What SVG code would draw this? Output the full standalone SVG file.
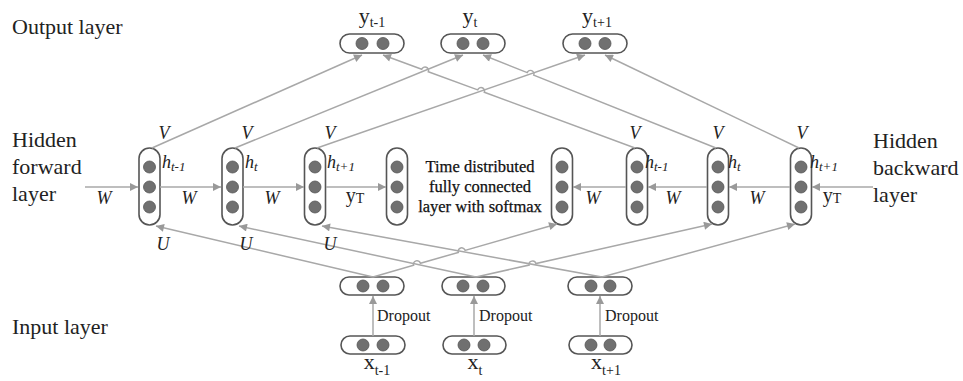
<svg xmlns="http://www.w3.org/2000/svg" width="963" height="381" viewBox="0 0 963 381">
<style>
.pill{fill:#fff;stroke:#555;stroke-width:1.6}
.dot{fill:#707070;stroke:#555;stroke-width:0.8}
.ln{fill:none;stroke:#a8a8a8;stroke-width:1.5}
.arr{marker-end:url(#ah)}
.big{font-family:"Liberation Serif",serif;font-size:22px;fill:#222}
.lab{font-family:"Liberation Serif",serif;font-size:22px;fill:#222}
.sub{font-size:14px}
.it{font-family:"Liberation Serif",serif;font-style:italic;font-size:18px;fill:#222}
.its{font-size:13px}
.sm{font-family:"Liberation Serif",serif;font-size:16px;fill:#222}
.td{font-family:"Liberation Serif",serif;font-size:16.5px;fill:#111;stroke:#111;stroke-width:0.25}
</style>
<defs>
<marker id="ah" viewBox="0 0 10 10" refX="10" refY="5" markerWidth="10" markerHeight="8" markerUnits="userSpaceOnUse" orient="auto">
<path d="M0 0 L10 5 L0 10 z" fill="#999"/>
</marker>
</defs>

<g id="layer-labels">
<text class="big" x="12" y="34">Output layer</text>
<text class="big" x="12" y="147">Hidden</text>
<text class="big" x="12" y="174">forward</text>
<text class="big" x="12" y="201">layer</text>
<text class="big" x="873" y="148">Hidden</text>
<text class="big" x="873" y="175">backward</text>
<text class="big" x="873" y="202">layer</text>
<text class="big" x="12" y="334">Input layer</text>
</g>

<g id="out-ytm1"><rect class="pill" x="340" y="34" width="64" height="19" rx="9.5"/><circle class="dot" cx="362" cy="43.5" r="6"/><circle class="dot" cx="383" cy="43.5" r="6"/><text class="lab" x="372" y="23" text-anchor="middle">y<tspan class="sub" dy="4">t-1</tspan></text></g>
<g id="out-yt"><rect class="pill" x="441" y="34" width="64" height="19" rx="9.5"/><circle class="dot" cx="463" cy="43.5" r="6"/><circle class="dot" cx="483" cy="43.5" r="6"/><text class="lab" x="470" y="23" text-anchor="middle">y<tspan class="sub" dy="4">t</tspan></text></g>
<g id="out-ytp1"><rect class="pill" x="563" y="34" width="64" height="19" rx="9.5"/><circle class="dot" cx="585" cy="43.5" r="6"/><circle class="dot" cx="605" cy="43.5" r="6"/><text class="lab" x="597" y="23" text-anchor="middle">y<tspan class="sub" dy="4">t+1</tspan></text></g>

<g id="fwd-htm1"><rect class="pill" x="139" y="148" width="21" height="77" rx="10.5"/><circle class="dot" cx="149.5" cy="167" r="6"/><circle class="dot" cx="149.5" cy="187" r="6"/><circle class="dot" cx="149.5" cy="207" r="6"/><text class="it" x="162" y="168">h<tspan class="its" dy="3">t-1</tspan></text></g>
<g id="fwd-ht"><rect class="pill" x="222" y="148" width="21" height="77" rx="10.5"/><circle class="dot" cx="232.5" cy="167" r="6"/><circle class="dot" cx="232.5" cy="187" r="6"/><circle class="dot" cx="232.5" cy="207" r="6"/><text class="it" x="245" y="168">h<tspan class="its" dy="3">t</tspan></text></g>
<g id="fwd-htp1"><rect class="pill" x="304.5" y="148" width="21" height="77" rx="10.5"/><circle class="dot" cx="315" cy="167" r="6"/><circle class="dot" cx="315" cy="187" r="6"/><circle class="dot" cx="315" cy="207" r="6"/><text class="it" x="327" y="168">h<tspan class="its" dy="3">t+1</tspan></text></g>
<g id="td-left"><rect class="pill" x="386.5" y="148" width="21" height="77" rx="10.5"/><circle class="dot" cx="397" cy="167" r="6"/><circle class="dot" cx="397" cy="187" r="6"/><circle class="dot" cx="397" cy="207" r="6"/></g>
<g id="td-text">
<text class="td" x="480" y="172" text-anchor="middle">Time distributed</text>
<text class="td" x="480" y="192" text-anchor="middle">fully connected</text>
<text class="td" x="480" y="212" text-anchor="middle">layer with softmax</text>
</g>
<g id="td-right"><rect class="pill" x="551.5" y="148" width="21" height="77" rx="10.5"/><circle class="dot" cx="562" cy="167" r="6"/><circle class="dot" cx="562" cy="187" r="6"/><circle class="dot" cx="562" cy="207" r="6"/></g>
<g id="bwd-htm1"><rect class="pill" x="626.5" y="148" width="21" height="77" rx="10.5"/><circle class="dot" cx="637" cy="167" r="6"/><circle class="dot" cx="637" cy="187" r="6"/><circle class="dot" cx="637" cy="207" r="6"/><text class="it" x="645" y="168">h<tspan class="its" dy="3">t-1</tspan></text></g>
<g id="bwd-ht"><rect class="pill" x="707.5" y="148" width="21" height="77" rx="10.5"/><circle class="dot" cx="718" cy="167" r="6"/><circle class="dot" cx="718" cy="187" r="6"/><circle class="dot" cx="718" cy="207" r="6"/><text class="it" x="728" y="168">h<tspan class="its" dy="3">t</tspan></text></g>
<g id="bwd-htp1"><rect class="pill" x="790.5" y="148" width="21" height="77" rx="10.5"/><circle class="dot" cx="801" cy="167" r="6"/><circle class="dot" cx="801" cy="187" r="6"/><circle class="dot" cx="801" cy="207" r="6"/><text class="it" x="810" y="168">h<tspan class="its" dy="3">t+1</tspan></text></g>

<g id="in-drop-tm1"><rect class="pill" x="340" y="277" width="64" height="18" rx="9"/><circle class="dot" cx="363" cy="286" r="6"/><circle class="dot" cx="383" cy="286" r="6"/></g>
<g id="in-drop-t"><rect class="pill" x="442" y="277" width="63" height="18" rx="9"/><circle class="dot" cx="463" cy="286" r="6"/><circle class="dot" cx="483" cy="286" r="6"/></g>
<g id="in-drop-tp1"><rect class="pill" x="568" y="277" width="64" height="18" rx="9"/><circle class="dot" cx="591" cy="286" r="6"/><circle class="dot" cx="610" cy="286" r="6"/></g>
<g id="in-xtm1"><rect class="pill" x="341" y="336" width="64" height="18" rx="9"/><circle class="dot" cx="363" cy="345" r="6"/><circle class="dot" cx="383" cy="345" r="6"/><text class="lab" x="377" y="369" text-anchor="middle">x<tspan class="sub" dy="6">t-1</tspan></text></g>
<g id="in-xt"><rect class="pill" x="443" y="336" width="63" height="18" rx="9"/><circle class="dot" cx="464" cy="345" r="6"/><circle class="dot" cx="484" cy="345" r="6"/><text class="lab" x="475" y="369" text-anchor="middle">x<tspan class="sub" dy="6">t</tspan></text></g>
<g id="in-xtp1"><rect class="pill" x="569" y="336" width="63" height="18" rx="9"/><circle class="dot" cx="591" cy="345" r="6"/><circle class="dot" cx="610" cy="345" r="6"/><text class="lab" x="606" y="369" text-anchor="middle">x<tspan class="sub" dy="6">t+1</tspan></text></g>

<g id="connectors">
<path class="ln arr" d="M85 187 L138 187"/>
<path class="ln arr" d="M160 187 L221 187"/>
<path class="ln arr" d="M243 187 L304 187"/>
<path class="ln arr" d="M326 187 L386 187"/>
<path class="ln arr" d="M873 187 L812 187"/>
<path class="ln arr" d="M790 187 L729 187"/>
<path class="ln arr" d="M707 187 L648 187"/>
<path class="ln arr" d="M626 187 L573 187"/>
<path class="ln arr" d="M152 148 L362 55"/>
<path class="ln arr" d="M235 148 L463 55"/>
<path class="ln arr" d="M317 148 L585 55"/>
<path class="ln arr" d="M635 148 L484.3 92.3 A3.5 3.5 0 0 0 477.7 89.9 L428.3 71.7 A3.5 3.5 0 0 0 421.7 69.3 L383 55"/>
<path class="ln arr" d="M716 148 L533.7 75.2 A3.5 3.5 0 0 0 527.2 72.6 L483 55"/>
<path class="ln arr" d="M799 148 L605 55"/>
<path class="ln arr" d="M373 277 L156 226"/>
<path class="ln arr" d="M476 277 L239 226"/>
<path class="ln arr" d="M602 277 L322 226"/>
<path class="ln arr" d="M373 277 L413.6 265.3 A3.5 3.5 0 0 1 420.4 263.3 L458.3 252.4 A3.5 3.5 0 0 1 465.1 250.4 L557 224"/>
<path class="ln arr" d="M476 277 L529.1 265.1 A3.5 3.5 0 0 1 535.9 263.5 L712 224"/>
<path class="ln arr" d="M602 277 L795 224"/>
<path class="ln arr" d="M373 336 L373 296"/>
<path class="ln arr" d="M474 336 L474 296"/>
<path class="ln arr" d="M600 336 L600 296"/>
</g>

<g id="edge-labels">
<text class="it" x="164" y="139" text-anchor="middle">V</text>
<text class="it" x="247" y="139" text-anchor="middle">V</text>
<text class="it" x="330" y="139" text-anchor="middle">V</text>
<text class="it" x="635" y="139" text-anchor="middle">V</text>
<text class="it" x="718" y="139" text-anchor="middle">V</text>
<text class="it" x="802" y="139" text-anchor="middle">V</text>
<text class="it" x="104" y="204" text-anchor="middle">W</text>
<text class="it" x="189" y="204" text-anchor="middle">W</text>
<text class="it" x="272" y="204" text-anchor="middle">W</text>
<text class="it" x="593" y="204" text-anchor="middle">W</text>
<text class="it" x="673" y="204" text-anchor="middle">W</text>
<text class="it" x="757" y="204" text-anchor="middle">W</text>
<text class="lab" x="355" y="202" text-anchor="middle" style="font-size:20px">y<tspan class="sub" dy="1">T</tspan></text>
<text class="lab" x="832" y="202" text-anchor="middle" style="font-size:20px">y<tspan class="sub" dy="1">T</tspan></text>
<text class="it" x="163" y="250" text-anchor="middle">U</text>
<text class="it" x="246" y="250" text-anchor="middle">U</text>
<text class="it" x="330" y="250" text-anchor="middle">U</text>
<text class="sm" x="377" y="321">Dropout</text>
<text class="sm" x="479" y="321">Dropout</text>
<text class="sm" x="605" y="321">Dropout</text>
</g>
</svg>
